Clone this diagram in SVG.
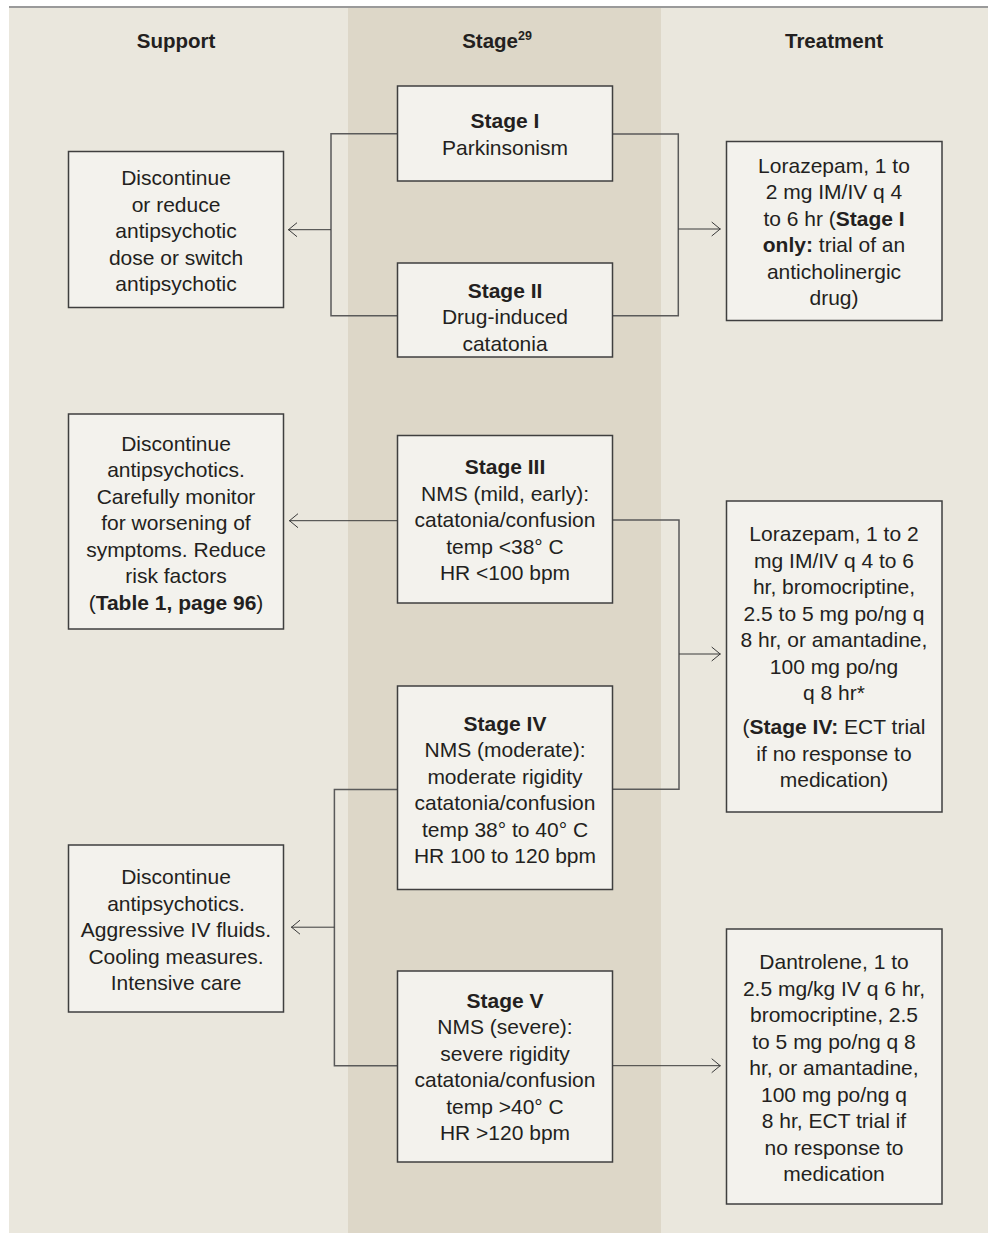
<svg xmlns="http://www.w3.org/2000/svg" width="988" height="1233" viewBox="0 0 988 1233">
<style>
.bg-l{fill:#EAE7DD}
.bg-m{fill:#DDD7C8}
.box{fill:#F3F2ED;stroke:#3f3f3f;stroke-width:1.5}
.t{font-family:"Liberation Sans",Arial,sans-serif;font-size:21px;fill:#231f20;text-anchor:middle}
.b{font-weight:bold}
.h{font-family:"Liberation Sans",Arial,sans-serif;font-size:20.5px;font-weight:bold;fill:#231f20;text-anchor:middle}
.c{fill:none;stroke:#5a5a5a;stroke-width:1.5}
.a{fill:none;stroke:#3a3a3a;stroke-width:1}
</style>
<defs>
<marker id="arr" viewBox="0 0 10 16" refX="10" refY="8" markerWidth="10" markerHeight="16" markerUnits="userSpaceOnUse" orient="auto">
<path d="M1,1 L9.5,8 L1,15" fill="none" stroke="#3a3a3a" stroke-width="1"/>
</marker>
</defs>
<rect x="0" y="0" width="988" height="1233" fill="#ffffff"/>
<rect class="bg-l" x="9" y="8" width="339" height="1225"/>
<rect class="bg-m" x="348" y="8" width="313" height="1225"/>
<rect class="bg-l" x="661" y="8" width="327" height="1225"/>
<line x1="9" y1="7" x2="988" y2="7" stroke="#9a9a9a" stroke-width="2"/>

<g id="headers">
<text class="h" x="176" y="48">Support</text>
<text class="h" x="497" y="48">Stage<tspan font-size="12.5" dy="-8">29</tspan></text>
<text class="h" x="834" y="48">Treatment</text>
</g>

<g id="connectors">
<path class="c" d="M397.5 133.7 H331 V315.7 H397.5"/>
<path class="a" d="M331 229.7 H288" marker-end="url(#arr)"/>
<path class="c" d="M612.5 134 H678.3 V315.7 H612.5"/>
<path class="a" d="M678.3 229 H720.7" marker-end="url(#arr)"/>
<path class="a" d="M397.5 520.7 H289" marker-end="url(#arr)"/>
<path class="c" d="M612.5 520 H679 V789.3 H612.5"/>
<path class="a" d="M679 654 H720.7" marker-end="url(#arr)"/>
<path class="c" d="M397.5 789.5 H334.4 V1065.7 H397.5"/>
<path class="a" d="M334.4 927.2 H291" marker-end="url(#arr)"/>
<path class="a" d="M612.5 1065.7 H720.7" marker-end="url(#arr)"/>
</g>

<g id="support1">
<rect class="box" x="68.5" y="151.5" width="215" height="156"/>
<text class="t"><tspan x="176" y="185">Discontinue</tspan><tspan x="176" y="211.5">or reduce</tspan><tspan x="176" y="238">antipsychotic</tspan><tspan x="176" y="264.5">dose or switch</tspan><tspan x="176" y="291">antipsychotic</tspan></text>
</g>

<g id="stage1">
<rect class="box" x="397.5" y="86" width="215" height="95"/>
<text class="t"><tspan x="505" y="128" class="b">Stage I</tspan><tspan x="505" y="155">Parkinsonism</tspan></text>
</g>

<g id="stage2">
<rect class="box" x="397.5" y="263" width="215" height="94"/>
<text class="t"><tspan x="505" y="297.5" class="b">Stage II</tspan><tspan x="505" y="324">Drug-induced</tspan><tspan x="505" y="350.5">catatonia</tspan></text>
</g>

<g id="treatment1">
<rect class="box" x="726.5" y="141.5" width="215.5" height="179"/>
<text class="t"><tspan x="834" y="172.5">Lorazepam, 1 to</tspan><tspan x="834" y="199">2 mg IM/IV q 4</tspan><tspan x="834" y="225.5">to 6 hr (<tspan class="b">Stage I</tspan></tspan><tspan x="834" y="252"><tspan class="b">only:</tspan> trial of an</tspan><tspan x="834" y="278.5">anticholinergic</tspan><tspan x="834" y="305">drug)</tspan></text>
</g>

<g id="support2">
<rect class="box" x="68.5" y="414" width="215" height="215"/>
<text class="t"><tspan x="176" y="450.5">Discontinue</tspan><tspan x="176" y="477">antipsychotics.</tspan><tspan x="176" y="503.5">Carefully monitor</tspan><tspan x="176" y="530">for worsening of</tspan><tspan x="176" y="556.5">symptoms. Reduce</tspan><tspan x="176" y="583">risk factors</tspan><tspan x="176" y="609.5">(<tspan class="b">Table 1, page 96</tspan>)</tspan></text>
</g>

<g id="stage3">
<rect class="box" x="397.5" y="435.5" width="215" height="167.5"/>
<text class="t"><tspan x="505" y="474" class="b">Stage III</tspan><tspan x="505" y="500.5">NMS (mild, early):</tspan><tspan x="505" y="527">catatonia/confusion</tspan><tspan x="505" y="553.5">temp &lt;38° C</tspan><tspan x="505" y="580">HR &lt;100 bpm</tspan></text>
</g>

<g id="treatment2">
<rect class="box" x="726.5" y="501" width="215.5" height="311"/>
<text class="t"><tspan x="834" y="541">Lorazepam, 1 to 2</tspan><tspan x="834" y="567.5">mg IM/IV q 4 to 6</tspan><tspan x="834" y="594">hr, bromocriptine,</tspan><tspan x="834" y="620.5">2.5 to 5 mg po/ng q</tspan><tspan x="834" y="647">8 hr, or amantadine,</tspan><tspan x="834" y="673.5">100 mg po/ng</tspan><tspan x="834" y="700">q 8 hr*</tspan><tspan x="834" y="734">(<tspan class="b">Stage IV:</tspan> ECT trial</tspan><tspan x="834" y="760.5">if no response to</tspan><tspan x="834" y="787">medication)</tspan></text>
</g>

<g id="stage4">
<rect class="box" x="397.5" y="686" width="215" height="203.5"/>
<text class="t"><tspan x="505" y="730.5" class="b">Stage IV</tspan><tspan x="505" y="757">NMS (moderate):</tspan><tspan x="505" y="783.5">moderate rigidity</tspan><tspan x="505" y="810">catatonia/confusion</tspan><tspan x="505" y="836.5">temp 38° to 40° C</tspan><tspan x="505" y="863">HR 100 to 120 bpm</tspan></text>
</g>

<g id="support3">
<rect class="box" x="68.5" y="845" width="215" height="167"/>
<text class="t"><tspan x="176" y="884">Discontinue</tspan><tspan x="176" y="910.5">antipsychotics.</tspan><tspan x="176" y="937">Aggressive IV fluids.</tspan><tspan x="176" y="963.5">Cooling measures.</tspan><tspan x="176" y="990">Intensive care</tspan></text>
</g>

<g id="stage5">
<rect class="box" x="397.5" y="971" width="215" height="191"/>
<text class="t"><tspan x="505" y="1007.5" class="b">Stage V</tspan><tspan x="505" y="1034">NMS (severe):</tspan><tspan x="505" y="1060.5">severe rigidity</tspan><tspan x="505" y="1087">catatonia/confusion</tspan><tspan x="505" y="1113.5">temp &gt;40° C</tspan><tspan x="505" y="1140">HR &gt;120 bpm</tspan></text>
</g>

<g id="treatment3">
<rect class="box" x="726.5" y="929" width="215.5" height="275"/>
<text class="t"><tspan x="834" y="969">Dantrolene, 1 to</tspan><tspan x="834" y="995.5">2.5 mg/kg IV q 6 hr,</tspan><tspan x="834" y="1022">bromocriptine, 2.5</tspan><tspan x="834" y="1048.5">to 5 mg po/ng q 8</tspan><tspan x="834" y="1075">hr, or amantadine,</tspan><tspan x="834" y="1101.5">100 mg po/ng q</tspan><tspan x="834" y="1128">8 hr, ECT trial if</tspan><tspan x="834" y="1154.5">no response to</tspan><tspan x="834" y="1181">medication</tspan></text>
</g>
</svg>
